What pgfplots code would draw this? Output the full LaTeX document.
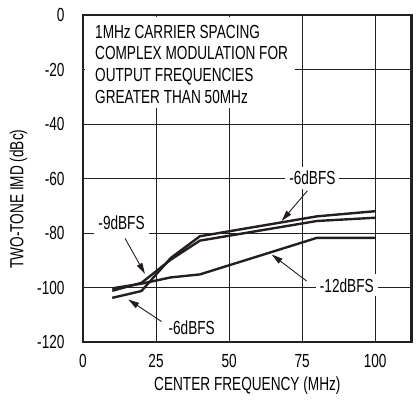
\documentclass[border=0pt]{standalone}
\usepackage{fontspec}
\setmainfont{Liberation Sans}[FakeStretch=0.72]
\usepackage{pgfplots}
\pgfplotsset{compat=1.18}
\usetikzlibrary{arrows.meta}

\definecolor{ink}{HTML}{231F20}

\begin{document}
\fontsize{19}{21.8}\selectfont
\begin{tikzpicture}
\begin{axis}[
    at={(0,0)}, anchor=south west,
    scale only axis,
    width=328.7bp, height=327bp,
    xmin=0, xmax=112.5,
    ymin=-120, ymax=0,
    xtick={0,25,50,75,100},
    ytick={-120,-100,-80,-60,-40,-20,0},
    yticklabels={-120,-100,-80,-60,-40,-20,0},
    major tick length=0pt,
    grid=major,
    major grid style={ink, line width=0.8bp},
    axis line style={ink, line width=2.6bp},
    tick label style={font=\fontsize{19}{21.8}\selectfont},
    /pgf/number format/assume math mode=true,
    xticklabel style={yshift=-6bp},
    yticklabel style={xshift=-12bp},
    xlabel={CENTER FREQUENCY (MHz)},
    ylabel={TWO-TONE IMD (dBc)},
    label style={font=\fontsize{19}{21.8}\selectfont},
    xlabel style={yshift=4bp},
    ylabel style={at={(ticklabel cs:0.437)}, yshift=-3bp},
    clip=false,
]
\addplot[ink, line width=2.4bp] coordinates {
  (10,-103.8) (20,-101.3) (30,-89.2) (40,-81.2) (80,-73.9) (100,-72.0)
};
\addplot[ink, line width=2.4bp] coordinates {
  (10,-101.2) (20,-98.3) (30,-89.8) (40,-82.8) (80,-75.6) (100,-74.4)
};
\addplot[ink, line width=2.4bp] coordinates {
  (10,-100.3) (20,-98.6) (30,-96.3) (40,-95.2) (80,-81.8) (100,-81.8)
};

% note box
\node[fill=white, anchor=north west, inner sep=0pt,
      minimum width=210bp, minimum height=91bp] at (axis cs:0.5,-0.5) {};
\node[anchor=north west, align=left, inner sep=0pt]
  at (axis cs:4.1,-3.6)
  {1MHz CARRIER SPACING\\COMPLEX MODULATION FOR\\OUTPUT FREQUENCIES\\GREATER THAN 50MHz};

% labels and arrows
\node[fill=white, inner sep=4bp] at (axis cs:78.5,-59.8) {-6dBFS};
\node[fill=white, inner sep=4bp] at (axis cs:13.2,-76.2) {-9dBFS};
\node[fill=white, inner sep=4bp] at (axis cs:90.3,-99.2) {-12dBFS};
\node[fill=white, inner sep=4bp] at (axis cs:37.2,-114.8) {-6dBFS};

\draw[ink, line width=0.9bp, -{Triangle[length=11bp, width=6bp]}]
  (axis cs:76.8,-64.5) -- (axis cs:68,-75.6);
\draw[ink, line width=0.9bp, -{Triangle[length=11bp, width=6bp]}]
  (axis cs:14.4,-82) -- (axis cs:21.2,-95);
\draw[ink, line width=0.9bp, -{Triangle[length=11bp, width=6bp]}]
  (axis cs:76.5,-97.6) -- (axis cs:64.6,-87.9);
\draw[ink, line width=0.9bp, -{Triangle[length=11bp, width=6bp]}]
  (axis cs:26.9,-112.5) -- (axis cs:15.5,-104.4);
\end{axis}
\pgfresetboundingbox
\path (-83bp,-60bp) rectangle (334bp,342bp);
\end{tikzpicture}
\end{document}
